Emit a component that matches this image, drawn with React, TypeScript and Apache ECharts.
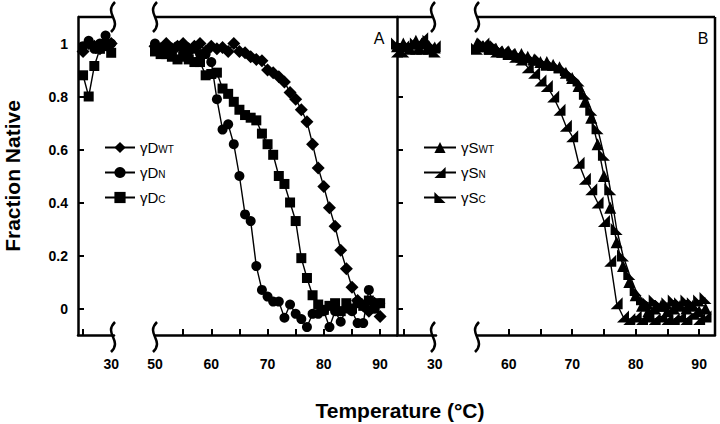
import React, { useEffect, useRef } from 'react';
import * as echarts from 'echarts';

// ---------- data ----------
const tempsA1 = [25, 26, 27, 28, 29, 30];
const dWT_A1 = [0.97, 1.0, 0.99, 0.98, 1.0, 1.0];
const dN_A1 = [0.99, 1.01, 0.98, 1.0, 1.03, 1.0];
const dC_A1 = [0.88, 0.80, 0.915, 0.98, 0.99, 0.965];

const tempsA2 = [50, 51, 52, 53, 54, 55, 56, 57, 58, 59, 60, 61, 62, 63, 64, 65, 66, 67, 68, 69, 70,
  71, 72, 73, 74, 75, 76, 77, 78, 79, 80, 81, 82, 83, 84, 85, 86, 87, 88, 89, 90];
const dWT_A2 = [0.99, 0.98, 1.0, 0.98, 0.99, 1.0, 0.98, 0.99, 1.0, 0.97, 0.99, 0.98, 0.985, 0.97, 1.0,
  0.97, 0.965, 0.95, 0.94, 0.935, 0.9, 0.89, 0.875, 0.855, 0.815, 0.79, 0.75, 0.705, 0.62, 0.53, 0.46,
  0.38, 0.31, 0.22, 0.15, 0.08, 0.03, 0.01, -0.01, 0.02, -0.03];
const dN_A2 = [1.0, 0.98, 0.99, 0.97, 0.99, 0.98, 0.97, 0.98, 0.96, 0.96, 0.93, 0.79, 0.675, 0.695,
  0.62, 0.5, 0.355, 0.33, 0.16, 0.07, 0.045, 0.026, 0.026, -0.035, 0.015, -0.02, -0.04, -0.07, -0.02,
  -0.02, -0.01, -0.07, -0.01, -0.05, 0.0, -0.01, -0.055, -0.055, 0.07, 0.0, 0.02];
const dC_A2 = [0.97, 0.96, 0.96, 0.95, 0.94, 0.95, 0.94, 0.93, 0.93, 0.88, 0.885, 0.89, 0.83, 0.81,
  0.78, 0.75, 0.73, 0.72, 0.71, 0.66, 0.62, 0.58, 0.5, 0.47, 0.4, 0.33, 0.19, 0.115, 0.05, 0.015,
  -0.005, 0.01, 0.02, -0.01, 0.02, 0.0, 0.02, 0.01, 0.03, 0.0, 0.02];

const tempsB1 = [24, 25, 26, 27, 28, 29, 30];
const sWT_B1 = [0.99, 1.0, 0.98, 1.01, 1.0, 0.99, 0.985];
const sN_B1 = [0.97, 0.99, 1.0, 0.98, 1.02, 0.98, 0.99];
const sC_B1 = [1.0, 0.97, 0.99, 1.0, 0.98, 1.01, 0.97];

const tempsB2 = [55, 56, 57, 58, 59, 60, 61, 62, 63, 64, 65, 66, 67, 68, 69, 70, 71, 72, 73, 74, 75,
  76, 77, 78, 79, 80, 81, 82, 83, 84, 85, 86, 87, 88, 89, 90, 91];
const sWT_B2 = [1.0, 0.99, 0.99, 0.98, 0.97, 0.97, 0.96, 0.96, 0.95, 0.94, 0.93, 0.93, 0.92, 0.91,
  0.89, 0.87, 0.84, 0.78, 0.72, 0.62, 0.5, 0.38, 0.25, 0.16, 0.1, 0.05, 0.01, -0.01, 0.0, 0.01, -0.01,
  0.0, 0.01, 0.0, 0.01, -0.01, 0.0];
const sN_B2 = [0.99, 1.0, 0.98, 0.97, 0.97, 0.96, 0.95, 0.94, 0.91, 0.89, 0.86, 0.84, 0.8, 0.75, 0.69,
  0.65, 0.55, 0.49, 0.45, 0.4, 0.33, 0.18, 0.02, -0.03, -0.04, -0.03, -0.04, -0.03, -0.04, -0.03,
  -0.04, -0.04, -0.03, -0.04, -0.02, -0.04, -0.03];
const sC_B2 = [0.98, 1.0, 0.98, 0.99, 0.97, 0.96, 0.96, 0.95, 0.95, 0.94, 0.94, 0.92, 0.92, 0.91, 0.9,
  0.88, 0.86, 0.81, 0.75, 0.68, 0.58, 0.45, 0.3, 0.2, 0.13, 0.07, 0.035, 0.02, 0.03, 0.01, 0.02, 0.03,
  0.02, 0.03, 0.02, 0.03, 0.04];

const yTicks = [0, 0.2, 0.4, 0.6, 0.8, 1];
const xTicksA2 = [55, 60, 65, 70, 75, 80, 85, 90];
const xLabelsA2 = [50, 60, 70, 80, 90];
const xTicksB2 = [60, 65, 70, 75, 80, 85, 90];
const xLabelsB2 = [60, 70, 80, 90];

const legendA = { 'γD_WT': ['γD', 'WT'], 'γD_N': ['γD', 'N'], 'γD_C': ['γD', 'C'] } as Record<string, string[]>;
const legendB = { 'γS_WT': ['γS', 'WT'], 'γS_N': ['γS', 'N'], 'γS_C': ['γS', 'C'] } as Record<string, string[]>;

const FONT = 'Liberation Sans, Arial, sans-serif';

const pair = (t: number[], v: number[]) => t.map((x, i) => [x, v[i]]);

const SYM_N = 'path://M0,10 L10,0 L10,10 Z';
const SYM_C = 'path://M0,0 L10,10 L0,10 Z';

export default function App() {
  const ref = useRef<HTMLDivElement>(null);
  useEffect(() => {
    if (!ref.current) return;
    const chart = echarts.init(ref.current, undefined, { renderer: 'svg' });

    const axisLine = { show: true, onZero: false, lineStyle: { color: '#000', width: 2.5 } };
    const xLabel = { fontFamily: FONT, fontWeight: 'bold', fontSize: 14, color: '#000', margin: 22 };
    const tick = (vals: number[]) => ({ show: true, inside: true, length: 6, lineStyle: { color: '#000', width: 2 }, customValues: vals });
    const mkX = (gi: number, min: number, max: number, ticks: number[], labels: number[]) => ({
      type: 'value', gridIndex: gi, min, max, axisLine, axisTick: tick(ticks),
      axisLabel: { ...xLabel, customValues: labels }, splitLine: { show: false },
    });

    const baseLine = { color: '#000', width: 1.4 };
    const mkS = (name: string, xi: number, t: number[], v: number[], symbol: string, size: number) => ({
      type: 'line', name, xAxisIndex: xi, yAxisIndex: xi, data: pair(t, v), symbol, symbolSize: size,
      itemStyle: { color: '#000' }, lineStyle: baseLine, clip: false,
    });

    const squiggle = (x: number, y: number) => ({
      type: 'bezierCurve',
      shape: { x1: x + 2, y1: y - 15, cpx1: x - 10, cpy1: y - 3, cpx2: x + 10, cpy2: y + 3, x2: x - 2, y2: y + 15 },
      style: { stroke: '#000', lineWidth: 2.5, fill: 'none' },
    });
    const hline = (x1: number, x2: number, y: number) => ({
      type: 'line', shape: { x1, y1: y, x2, y2: y }, style: { stroke: '#000', lineWidth: 2.5 },
    });

    const rich = {
      a: { fontFamily: FONT, fontSize: 15, color: '#000' },
      b: { fontFamily: FONT, fontSize: 10, color: '#000', verticalAlign: 'bottom', padding: [0, 0, 1, 0] },
    };

    chart.setOption({
      animation: false,
      backgroundColor: '#fff',
      grid: [
        { left: 78, top: 17, width: 36, height: 318 },
        { left: 155, top: 17, width: 242, height: 318 },
        { left: 397, top: 17, width: 39, height: 318 },
        { left: 477, top: 17, width: 238, height: 318 },
      ],
      xAxis: [
        mkX(0, 24.1, 30.5, [25], [30]),
        mkX(1, 50, 93, xTicksA2, xLabelsA2),
        mkX(2, 24, 30.2, [25], [30]),
        mkX(3, 55, 92.5, xTicksB2, xLabelsB2),
      ],
      yAxis: [
        {
          type: 'value', gridIndex: 0, min: -0.1, max: 1.1, axisLine, axisTick: tick(yTicks),
          axisLabel: { fontFamily: FONT, fontWeight: 'bold', fontSize: 14, color: '#000', margin: 10, customValues: yTicks,
            formatter: (v: number) => String(Math.round(v * 10) / 10) },
          splitLine: { show: false },
        },
        { type: 'value', gridIndex: 1, min: -0.1, max: 1.1, show: false },
        {
          type: 'value', gridIndex: 2, min: -0.1, max: 1.1, axisLine, axisTick: tick(yTicks),
          axisLabel: { show: false }, splitLine: { show: false },
        },
        { type: 'value', gridIndex: 3, min: -0.1, max: 1.1, show: false },
      ],
      legend: [
        {
          data: Object.keys(legendA), left: 99, top: 135, orient: 'vertical', itemGap: 10, itemWidth: 30, itemHeight: 14,
          selectedMode: false, formatter: (n: string) => `{a|${legendA[n][0]}}{b|${legendA[n][1]}}`,
          textStyle: { rich },
        },
        {
          data: Object.keys(legendB), left: 418, top: 135, orient: 'vertical', itemGap: 10, itemWidth: 32, itemHeight: 14,
          selectedMode: false, formatter: (n: string) => `{a|${legendB[n][0]}}{b|${legendB[n][1]}}`,
          textStyle: { rich },
        },
      ],
      series: [
        mkS('γD_WT', 0, tempsA1, dWT_A1, 'diamond', 13),
        mkS('γD_N', 0, tempsA1, dN_A1, 'circle', 10),
        mkS('γD_C', 0, tempsA1, dC_A1, 'rect', 10),
        mkS('γD_WT', 1, tempsA2, dWT_A2, 'diamond', 13),
        mkS('γD_N', 1, tempsA2, dN_A2, 'circle', 10),
        mkS('γD_C', 1, tempsA2, dC_A2, 'rect', 10),
        mkS('γS_WT', 2, tempsB1, sWT_B1, 'triangle', 12),
        mkS('γS_N', 2, tempsB1, sN_B1, SYM_N, 12),
        mkS('γS_C', 2, tempsB1, sC_B1, SYM_C, 12),
        mkS('γS_WT', 3, tempsB2, sWT_B2, 'triangle', 12),
        mkS('γS_N', 3, tempsB2, sN_B2, SYM_N, 12),
        mkS('γS_C', 3, tempsB2, sC_B2, SYM_C, 12),
      ],
      graphic: [
        hline(78, 113, 17), hline(155, 397, 17), hline(397, 433, 17), hline(477, 715, 17),
        { type: 'line', shape: { x1: 715, y1: 17, x2: 715, y2: 335 }, style: { stroke: '#000', lineWidth: 2.5 } },
        squiggle(113, 17), squiggle(155, 17), squiggle(433, 17), squiggle(477, 17),
        squiggle(113, 337), squiggle(155, 337), squiggle(433, 337), squiggle(477, 337),
        { type: 'text', x: 379, y: 38, style: { text: 'A', font: `16px ${FONT}`, fill: '#000', align: 'center', verticalAlign: 'middle' } },
        { type: 'text', x: 703, y: 38, style: { text: 'B', font: `16px ${FONT}`, fill: '#000', align: 'center', verticalAlign: 'middle' } },
        { type: 'text', x: 12, y: 176, rotation: Math.PI / 2, style: { text: 'Fraction Native', font: `bold 21px ${FONT}`, fill: '#000', align: 'center', verticalAlign: 'middle' } },
        { type: 'text', x: 400, y: 410, style: { text: 'Temperature (°C)', font: `bold 21px ${FONT}`, fill: '#000', align: 'center', verticalAlign: 'middle' } },
      ],
    });
    return () => chart.dispose();
  }, []);
  return <div ref={ref} style={{ position: 'absolute', left: 0, top: 0, width: 720, height: 424, background: '#fff' }} />;
}
